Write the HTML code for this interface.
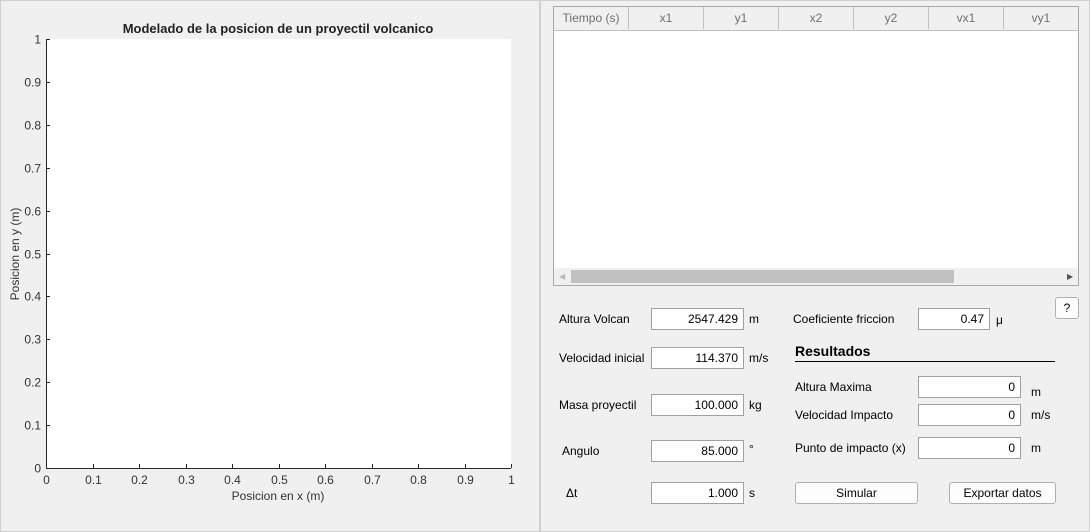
<!DOCTYPE html>
<html><head><meta charset="utf-8">
<style>
body{margin:0;width:1090px;height:532px;background:#f0f0f0;font-family:"Liberation Sans",sans-serif;font-size:12px;color:#212121;position:relative;overflow:hidden}
.abs{position:absolute}
.lbl{position:absolute;font-size:12px;color:#000;white-space:nowrap}
.inp{position:absolute;background:#fff;border:1px solid #a0a0a0;box-sizing:border-box;text-align:right;padding-right:5px;font-size:12px;line-height:20px;color:#000}
.btn{position:absolute;background:#fdfdfd;border:1px solid #b0b0b0;border-radius:3px;box-sizing:border-box;text-align:center;font-size:12px;line-height:20px;color:#000}
.th{position:absolute;top:0;height:22px;line-height:22px;text-align:center;color:#707070;border-right:1px solid #c0c0c0;box-sizing:border-box;font-size:12px}
</style></head><body>
<div class="abs" style="left:0;top:0;width:538px;height:530px;border:1px solid #d0d0d0"></div>
<div class="abs" style="left:540px;top:0;width:548px;height:530px;border:1px solid #d0d0d0"></div>

<svg class="abs" style="left:0;top:0" width="540" height="532" id="chart">
<rect x="46" y="39" width="465" height="429" fill="#fff"/>
<text x="278" y="33" text-anchor="middle" font-size="13" font-weight="bold" fill="#222" font-family="Liberation Sans">Modelado de la posicion de un proyectil volcanico</text>
<text x="278" y="500" text-anchor="middle" font-size="12" fill="#333" font-family="Liberation Sans">Posicion en x (m)</text>
<text transform="translate(19,254) rotate(-90)" text-anchor="middle" font-size="12" fill="#333" font-family="Liberation Sans">Posicion en y (m)</text>
<g id="axes"></g>
</svg>

<script>
const xTicks=[0,0.1,0.2,0.3,0.4,0.5,0.6,0.7,0.8,0.9,1];
const yTicks=[0,0.1,0.2,0.3,0.4,0.5,0.6,0.7,0.8,0.9,1];
const xTickLabels=["0","0.1","0.2","0.3","0.4","0.5","0.6","0.7","0.8","0.9","1"];
const yTickLabels=["0","0.1","0.2","0.3","0.4","0.5","0.6","0.7","0.8","0.9","1"];
const X0=46,X1=511,Y0=468,Y1=39;
function sx(v){return X0+(X1-X0)*v;}
function sy(v){return Y0-(Y0-Y1)*v;}
const g=document.getElementById('axes');const NS='http://www.w3.org/2000/svg';
function mk(t,a){const e=document.createElementNS(NS,t);for(const k in a)e.setAttribute(k,a[k]);g.appendChild(e);return e;}
let l=mk('line',{x1:X0,y1:Y0+0.5,x2:X1,y2:Y0+0.5,stroke:'#262626'});


l=mk('line',{x1:X0+0.5,y1:Y0,x2:X0+0.5,y2:Y1,stroke:'#262626'});


xTicks.forEach((v,i)=>{const x=Math.round(sx(v))+0.5;
const t=mk('line',{x1:x,y1:Y0,x2:x,y2:Y0-4,stroke:'#262626'});


const tx=mk('text',{x:x,y:Y0+16,'text-anchor':'middle','font-size':12,fill:'#333','font-family':'Liberation Sans'});tx.textContent=xTickLabels[i];

});
yTicks.forEach((v,i)=>{const y=Math.round(sy(v))+0.5;
const t=mk('line',{x1:X0,y1:y,x2:X0+4,y2:y,stroke:'#262626'});


const tx=mk('text',{x:X0-5,y:y+4,'text-anchor':'end','font-size':12,fill:'#333','font-family':'Liberation Sans'});tx.textContent=yTickLabels[i];

});
</script>

<div class="abs" style="left:553px;top:6px;width:526px;height:280px;border:1px solid #a8a8a8;background:#fff;box-sizing:border-box">
 <div class="abs" style="left:0;top:0;width:524px;height:23px;background:#f0f0f0;border-bottom:1px solid #c0c0c0">
  <div class="th" style="left:0;width:75px">Tiempo (s)</div>
  <div class="th" style="left:75px;width:75px">x1</div>
  <div class="th" style="left:150px;width:75px">y1</div>
  <div class="th" style="left:225px;width:75px">x2</div>
  <div class="th" style="left:300px;width:75px">y2</div>
  <div class="th" style="left:375px;width:75px">vx1</div>
  <div class="th" style="left:450px;width:74px;border-right:none">vy1</div>
 </div>
 <div class="abs" style="left:0;top:261px;width:524px;height:17px;background:#f0f0f0">
  <div class="abs" style="left:5px;top:4px;color:#bbb;font-size:8px">◀</div>
  <div class="abs" style="left:17px;top:2px;width:383px;height:13px;background:#c0c0c0"></div>
  <div class="abs" style="left:513px;top:4px;color:#555;font-size:8px">▶</div>
 </div>
</div>

<div class="lbl" style="left:559px;top:312px">Altura Volcan</div>
<div class="inp" style="left:651px;top:308px;width:93px;height:22px">2547.429</div>
<div class="lbl" style="left:749px;top:312px">m</div>

<div class="lbl" style="left:559px;top:351px">Velocidad inicial</div>
<div class="inp" style="left:651px;top:347px;width:93px;height:22px;color:#000">114.370</div>
<div class="lbl" style="left:749px;top:351px">m/s</div>

<div class="lbl" style="left:559px;top:398px">Masa proyectil</div>
<div class="inp" style="left:651px;top:394px;width:93px;height:22px">100.000</div>
<div class="lbl" style="left:749px;top:398px">kg</div>

<div class="lbl" style="left:562px;top:444px">Angulo</div>
<div class="inp" style="left:651px;top:440px;width:93px;height:22px">85.000</div>
<div class="lbl" style="left:749px;top:442px">°</div>

<div class="lbl" style="left:566px;top:486px">Δt</div>
<div class="inp" style="left:651px;top:482px;width:93px;height:22px">1.000</div>
<div class="lbl" style="left:749px;top:486px">s</div>

<div class="lbl" style="left:793px;top:312px">Coeficiente friccion</div>
<div class="inp" style="left:918px;top:308px;width:72px;height:22px">0.47</div>
<div class="lbl" style="left:996px;top:313px">μ</div>
<div class="btn" style="left:1055px;top:297px;width:24px;height:22px">?</div>

<div class="lbl" style="left:795px;top:343px;font-weight:bold;font-size:14px">Resultados</div>
<div class="abs" style="left:795px;top:361px;width:260px;height:1px;background:#000"></div>

<div class="lbl" style="left:795px;top:380px">Altura Maxima</div>
<div class="inp" style="left:918px;top:376px;width:103px;height:22px">0</div>
<div class="lbl" style="left:1031px;top:385px">m</div>

<div class="lbl" style="left:795px;top:408px">Velocidad Impacto</div>
<div class="inp" style="left:918px;top:404px;width:103px;height:22px">0</div>
<div class="lbl" style="left:1031px;top:408px">m/s</div>

<div class="lbl" style="left:795px;top:441px">Punto de impacto (x)</div>
<div class="inp" style="left:918px;top:437px;width:103px;height:22px">0</div>
<div class="lbl" style="left:1031px;top:441px">m</div>

<div class="btn" style="left:795px;top:482px;width:123px;height:22px">Simular</div>
<div class="btn" style="left:949px;top:482px;width:107px;height:22px">Exportar datos</div>
</body></html>
